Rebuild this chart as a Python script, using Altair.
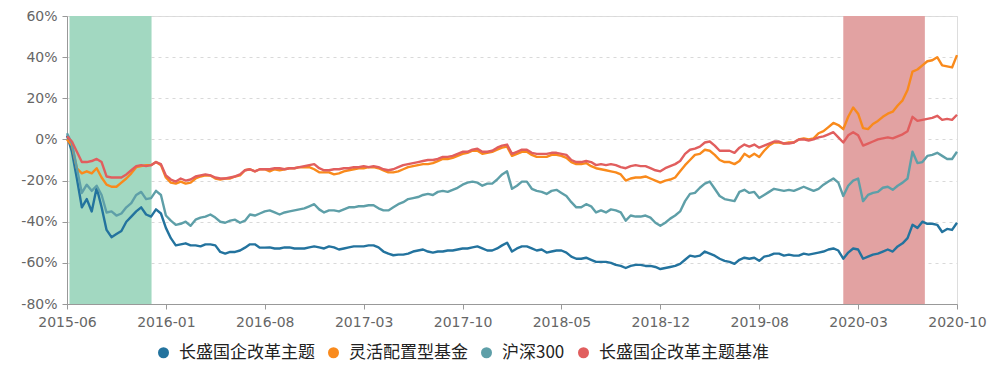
import altair as alt
import pandas as pd

series_names = ["长盛国企改革主题", "灵活配置型基金", "沪深300", "长盛国企改革主题基准"]
series_colors = ["#23739e", "#f98a1c", "#5e9fa8", "#e15e5e"]

tick_labels = ["2015-06", "2016-01", "2016-08", "2017-03", "2017-10",
               "2018-05", "2018-12", "2019-08", "2020-03", "2020-10"]
tick_step = 20
y_ticks = [-80, -60, -40, -20, 0, 20, 40, 60]

fund = [
    2, -6, -19, -33, -29, -35, -23.5, -33, -44, -47.5,
    -46, -44.5, -40, -37.5, -35, -33, -36.5, -37.5, -34, -36,
    -43, -48, -51.5, -51, -50.5, -51.5, -51.5, -52, -51, -51,
    -51.5, -54.7, -55.5, -54.7, -54.7, -54, -52.6, -51, -51, -52.6,
    -52.6, -52.5, -53, -53, -52.5, -52.5, -53, -53, -53, -52.5,
    -52, -52.5, -53, -52, -52.5, -53.5, -53, -52.5, -52, -52,
    -52, -51.5, -51.5, -52.5, -54.5, -55.5, -56.3, -56, -56, -55.5,
    -54.5, -54, -53.5, -54.5, -55, -54.5, -54.5, -54, -54, -53.5,
    -53, -53, -52.5, -52, -53, -54, -54, -53, -51.5, -50.2,
    -54.5, -53, -52, -52, -53, -54, -53.5, -55, -54.5, -54,
    -54, -55, -57, -58, -58, -57.5, -58.5, -59.5, -59.5, -59.5,
    -60, -61, -61.5, -62.5, -61.5, -61, -61, -61.5, -61.5, -62,
    -63, -62.5, -62, -61.5, -60.5, -58.5, -56.5, -57, -56.5, -54.5,
    -55.5, -56.5, -58, -59, -59.5, -60.5, -58.5, -57.5, -58, -57.5,
    -59, -57, -56.5, -55.5, -55.5, -56.5, -56, -56.5, -56.5, -55.5,
    -56, -55.5, -55, -54.5, -53.5, -53, -54, -58, -55, -53,
    -53.5, -58, -57, -56, -55.5, -54.5, -53.5, -54.5, -52, -50.5,
    -48, -41.5, -43, -40, -41, -41, -41.5, -45, -43.5, -44,
    -40.5,
]

flexible = [
    0, -3, -14, -16.5, -15.5, -16.5, -14, -18.5, -22, -23,
    -23, -21, -19, -16.5, -13.5, -13, -12.5, -12.5, -11, -12.5,
    -18.5, -21, -21.5, -20.5, -21.5, -21, -19, -18, -17.5, -17.5,
    -19, -19.5, -19, -19, -18, -17.5, -15, -14.5, -15.5, -14.5,
    -14.5, -15.5, -14.5, -15, -14.5, -14, -14, -13.5, -13.5, -13.5,
    -14.5, -16, -16, -16, -17, -16.5, -15.5, -15, -14.5, -14,
    -14, -13.5, -13.5, -14, -15, -16, -16, -15.5, -14.5, -13.5,
    -13, -12.5, -12, -12, -11.5, -10.5, -9.5, -9.5, -9, -8,
    -7, -6.5, -5.5, -5.5, -7, -6.5, -6, -5, -4, -3.5,
    -8, -7, -6, -6, -7.5, -8.5, -8.5, -8.5, -7.5, -7.5,
    -8, -9, -11, -12, -12, -11.5, -13, -14, -14.5, -15,
    -15.5, -16, -17, -20, -19, -18.5, -18.5, -18, -19, -20,
    -21, -20, -19.5, -18.5, -15.5, -12.5, -10, -7.5, -7, -5,
    -5.5, -7.5, -10, -11, -11, -12, -10.5, -7, -8.5, -7,
    -8.5, -5.5, -3, -1.5, -1.5, -2, -1.5, -1.5, 0, 0.5,
    0, 0.5, 3, 4, 6, 8, 7, 5, 11, 15.5,
    12.5, 5.5, 5, 7.5, 9, 11, 12.5, 13.5, 16.5, 19,
    24, 33, 34, 36, 38, 38.5, 40, 36, 35.5, 35,
    41,
]

hs300 = [
    3, -2, -14, -26, -22, -25, -22.5, -27, -35.5, -35,
    -37, -36, -33, -31, -27, -25.5, -29, -28.5, -25, -27,
    -37, -39.5, -41.5, -41, -40, -42, -39, -38, -37.5, -36.5,
    -38, -40, -40.5, -39.5, -39, -40.5, -39.5, -36.5, -37, -36,
    -35, -34.5, -35.5, -36.5, -35.5, -35, -34.5, -34, -33.5, -32.5,
    -31.5, -34, -35.5, -34.5, -34.5, -35, -34, -33, -33, -32.5,
    -32.5, -32, -32, -33.5, -34.5, -34.5, -33, -31.5, -30.5, -29,
    -28.5, -28, -27, -26.5, -27, -25.5, -25, -25.5, -24.5, -23.5,
    -22, -21, -20.5, -21, -22.5, -21.5, -21.5, -19.5, -17, -15.5,
    -24, -22.5, -20.5, -20.5, -24, -25, -25.5, -26.5, -25, -24.5,
    -26, -27.5, -30.5, -33, -33, -31.5, -32.5, -35.5, -34.5, -35.5,
    -34, -34.5, -35.5, -39.5, -37, -37.5, -37.5, -37, -38, -40.5,
    -42, -40.5, -38.5, -37, -35, -30, -26.5, -26, -23.5, -21.5,
    -20.5, -24, -27.5, -29, -29.5, -30, -25.5, -24.5, -26, -25.5,
    -28.5, -27, -25.5, -24, -24.5, -25, -24.5, -25, -24, -23,
    -24, -25, -24, -22, -20.5, -19, -21, -27.5, -22.5, -20,
    -19, -30, -27, -26, -25.5, -23.5, -23, -24.5, -22.5, -21,
    -19, -6, -11.5, -11, -8, -7.5, -6.5, -8, -9.5, -9.5,
    -6,
]

benchmark = [
    1.5, -1, -6, -11, -11, -10.5, -9.5, -11, -18, -18.5,
    -18.5, -18.5, -17, -15, -13, -12.5, -13, -12.5, -11, -12,
    -17.5, -19.5, -20.5, -19, -20, -19.5, -18, -17.5, -17, -17.5,
    -18.5, -19, -19, -18.5, -18, -17, -15, -14.5, -15.5, -14.5,
    -14.5, -14.5, -14, -14, -14.5, -14, -14, -13.5, -13, -12.5,
    -12, -14, -15, -15, -14.5, -14.5, -14, -14, -13.5, -13.5,
    -13, -13.5, -13, -13.5, -14.5, -15, -14.5, -13.5, -12.5, -12,
    -11.5, -11, -10.5, -10, -10, -9.5, -8.5, -8.5, -8, -7,
    -6, -6, -5, -4.5, -6, -6, -5.5, -4, -3, -2.5,
    -7, -6, -5, -5, -6.5, -7, -7, -7, -6.5, -6.5,
    -7, -7.5, -10, -11, -11, -10.5, -11, -12.5, -12, -12.5,
    -12, -12.5, -13.5, -14, -13, -12.5, -13, -13, -14, -15,
    -15.5, -14, -13, -12, -10.5, -7, -5, -4.5, -3.5, -1.5,
    -1, -3, -5.5, -5.5, -5.5, -6.5, -4, -2.5, -3.5, -2.5,
    -4, -3, -2, -1, -1, -2, -2, -1.5, 0, 0,
    -0.5, 0, 1, 1.5, 2.5, 3.5, 1, -1.5, 2, 3.5,
    2, -3, -2, -1, 0, 0.5, 1, 0.5, 1.5, 2.5,
    4, 11, 9, 9.5, 10, 10.5, 11.5, 9.5, 10, 9.5,
    12,
]

region_start = [0.5, 157.0]
region_end = [17.1, 173.5]
region_fill = ["#a2d8c1", "#e2a2a2"]

all_series = [fund, flexible, hs300, benchmark]
rows = []
for order, (name, col, vals) in enumerate(zip(series_names, series_colors, all_series)):
    for i, v in enumerate(vals):
        rows.append({"i": i, "value": v, "series": name, "hex": col, "order": order})
df = pd.DataFrame(rows)
n_max = max(len(s) for s in all_series) - 1

regions = pd.DataFrame({"start": region_start, "end": region_end, "fill": region_fill})

label_js = "[" + ",".join("'" + t + "'" for t in tick_labels) + "]"
x_scale = alt.Scale(domain=[0, n_max], nice=False, zero=False)
y_scale = alt.Scale(domain=[-80, 60], nice=False, zero=False)
series_scale = alt.Scale(domain=series_names, range=series_colors)

x_axis = alt.Axis(
    values=[k * tick_step for k in range(len(tick_labels))],
    labelExpr=label_js + "[round(datum.value / " + str(tick_step) + ")]",
    title=None, grid=False, domainColor="#999999", tickColor="#999999",
    tickSize=5, labelColor="#666666", labelFontSize=14, labelFont="DejaVu Sans",
    labelPadding=6, labelFlush=False, labelOverlap=False,
)
y_axis = alt.Axis(
    values=y_ticks, labelExpr="datum.value + '%'", title=None,
    grid=True, gridColor="#d9d9d9", gridDash=[3, 4], gridWidth=1,
    domainColor="#999999", tickColor="#999999", tickSize=5,
    labelColor="#666666", labelFontSize=14, labelFont="DejaVu Sans",
    labelPadding=5, labelOverlap=False,
)

shade = alt.Chart(regions).mark_rect(opacity=1).encode(
    x=alt.X("start:Q", scale=x_scale, axis=x_axis),
    x2="end:Q",
    y=alt.datum(60, scale=y_scale, axis=y_axis),
    y2=alt.datum(-80),
    color=alt.Color("fill:N", scale=None),
)

lines = alt.Chart(df).mark_line(strokeWidth=2.4, strokeJoin="round").encode(
    x=alt.X("i:Q", scale=x_scale, axis=x_axis),
    y=alt.Y("value:Q", scale=y_scale, axis=y_axis),
    color=alt.Color("hex:N", scale=None),
    order=alt.Order("order:Q"),
    detail="series:N",
)

legend_pts = alt.Chart(df).transform_filter("false").mark_circle(opacity=1).encode(
    x=alt.X("i:Q", scale=x_scale, axis=x_axis),
    y=alt.Y("value:Q", scale=y_scale, axis=y_axis),
    fill=alt.Fill(
        "series:N", scale=series_scale, sort=series_names,
        legend=alt.Legend(
            title=None, orient="none", direction="horizontal",
            legendX=88, legendY=328, symbolType="circle", symbolSize=121,
            labelFontSize=17, labelFont="Noto Sans CJK SC", labelColor="#222222",
            labelOffset=7, columnPadding=10, labelLimit=400,
            symbolStrokeWidth=0, symbolOpacity=1,
        ),
    ),
)

chart = alt.layer(shade, lines, legend_pts).properties(
    width=890, height=288,
    autosize=alt.AutoSizeParams(type="none"),
    padding={"left": 59, "top": 8, "right": 33, "bottom": 59},
).configure_view(stroke=None).configure(background="white")

chart.save("out.html", embed_options={"renderer": "svg", "actions": False})
